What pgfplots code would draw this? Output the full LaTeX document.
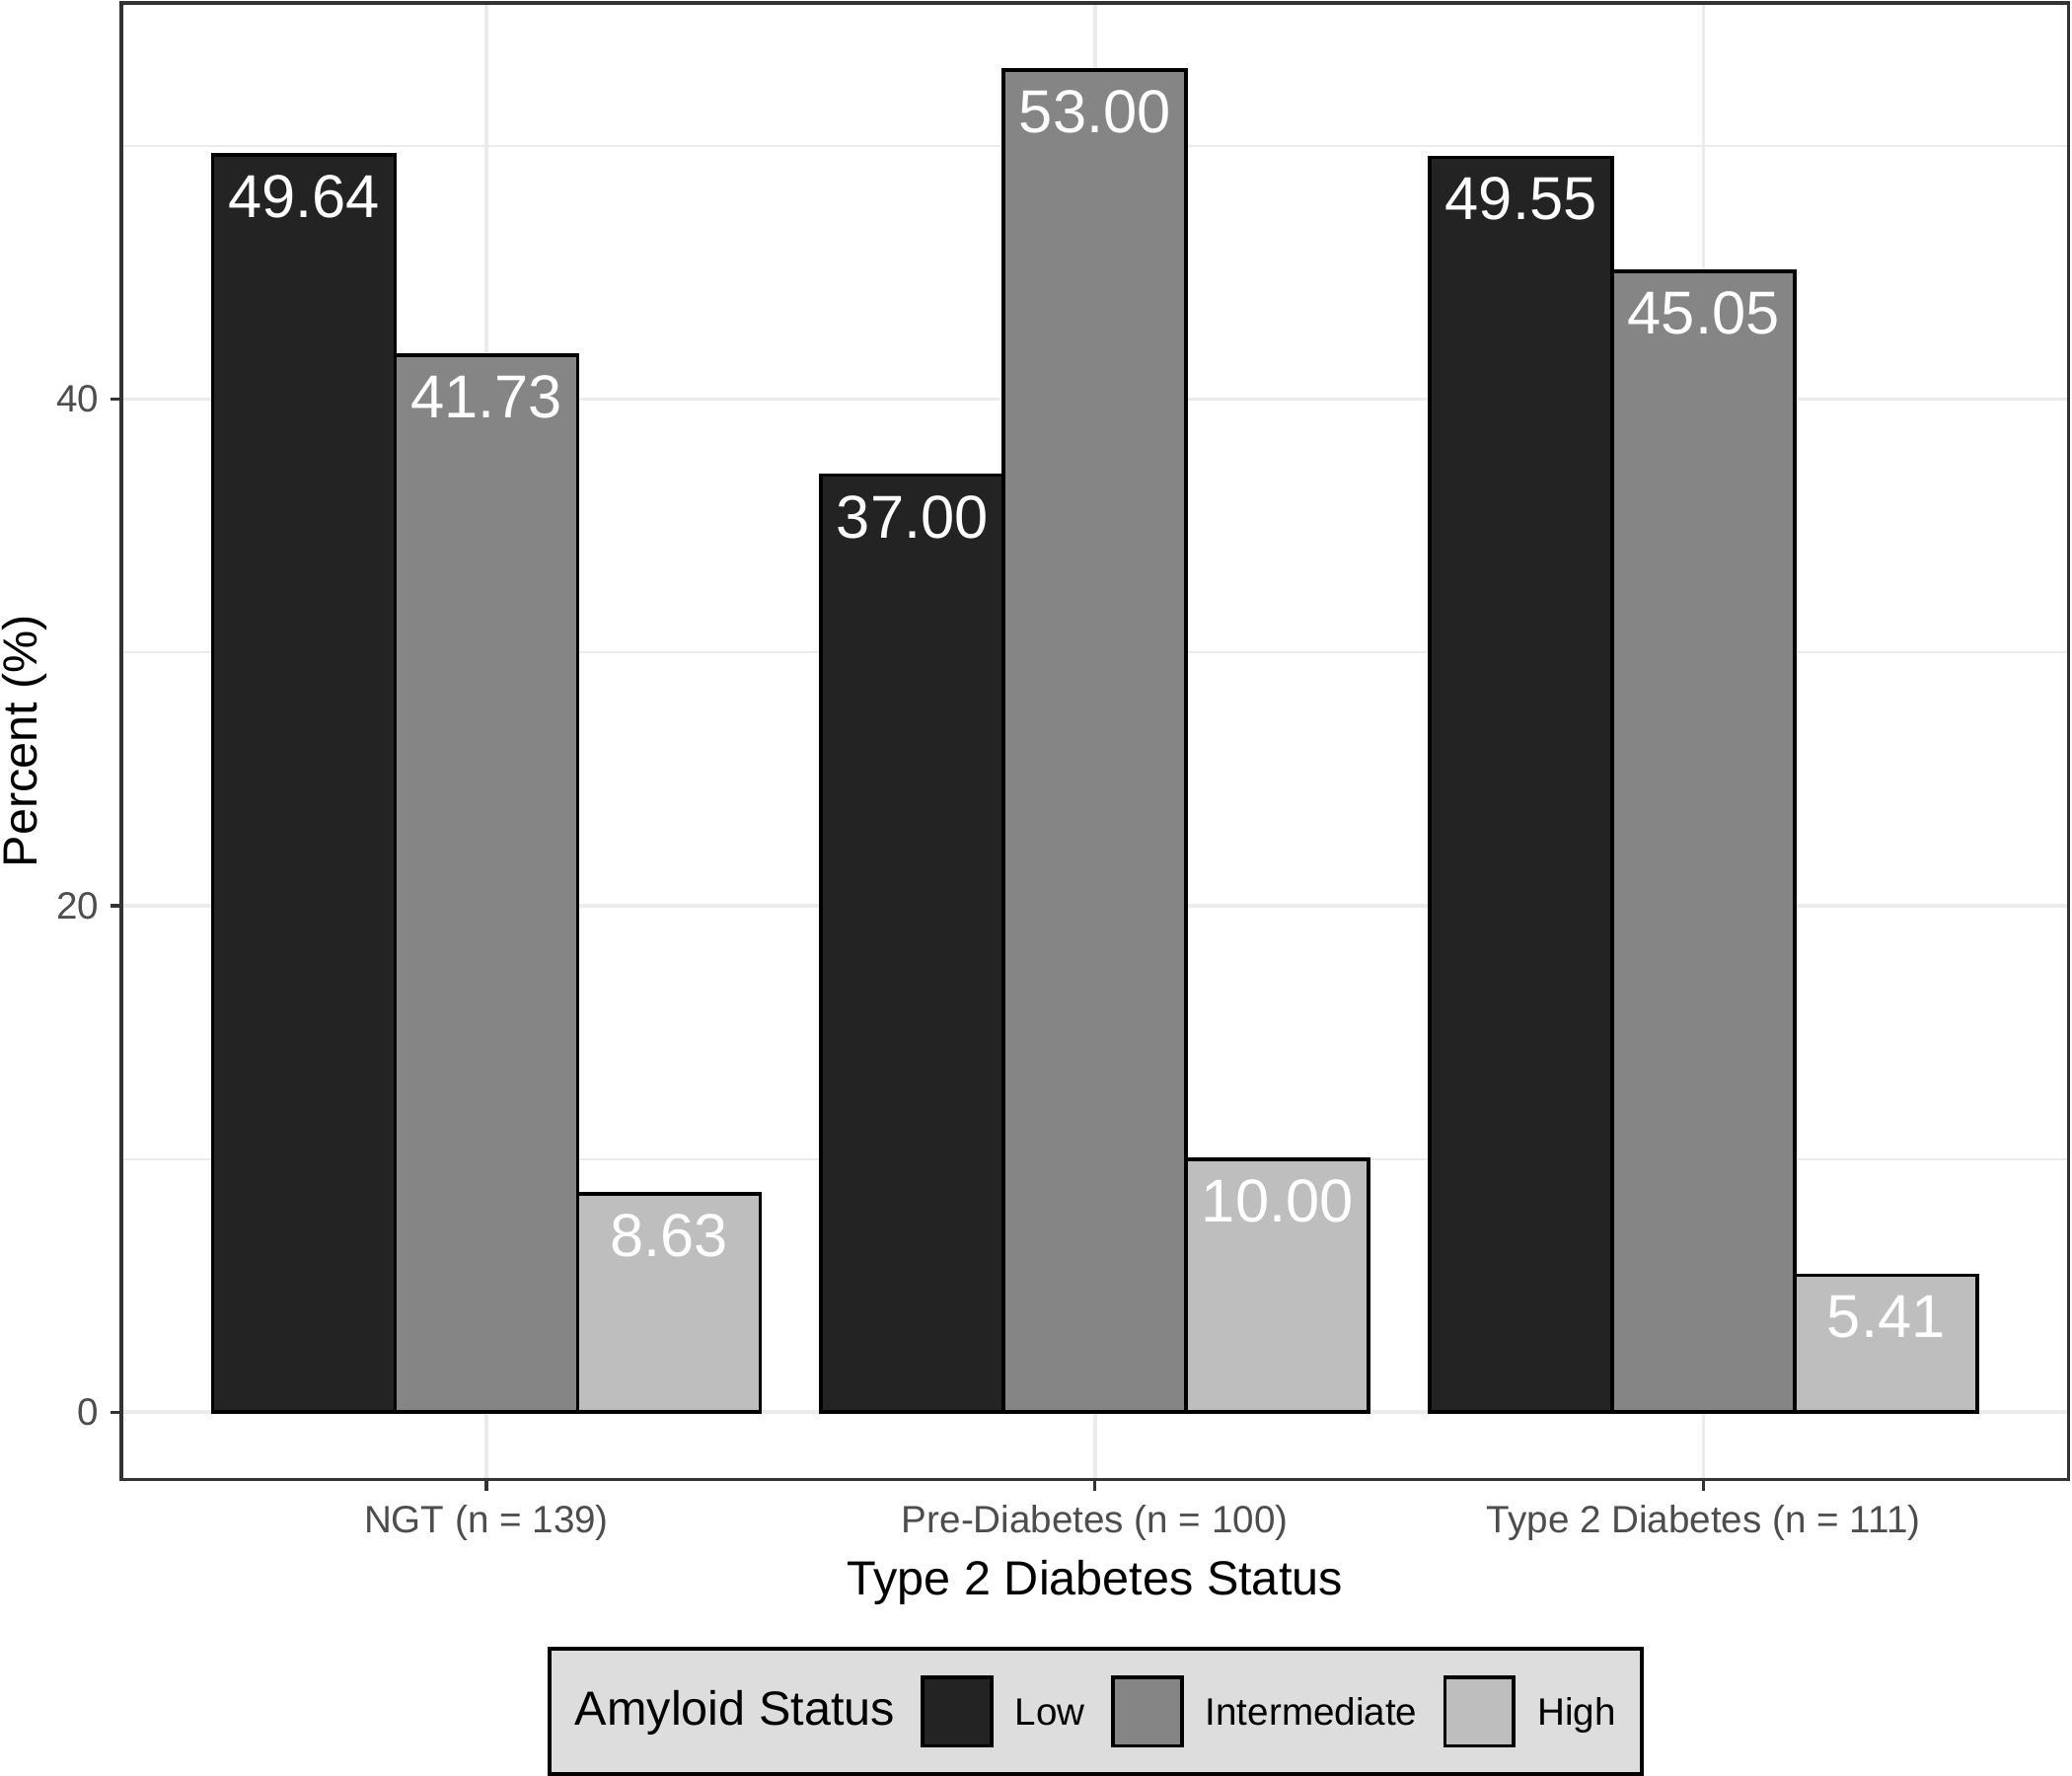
\documentclass[border=0pt]{standalone}
\usepackage{fontspec}
\setmainfont{Liberation Sans}
\usepackage{pgfplots}
\pgfplotsset{compat=1.18}
\definecolor{lowc}{RGB}{35,35,35}
\definecolor{midc}{RGB}{133,133,133}
\definecolor{highc}{RGB}{190,190,190}
\definecolor{gridc}{RGB}{235,235,235}
\definecolor{borderc}{RGB}{51,51,51}
\definecolor{tickc}{RGB}{77,77,77}
\definecolor{legendbg}{RGB}{221,221,221}
\pgfplotsset{
  keylegend/.style={legend image code/.code={%
    \path[draw=none,fill=none] (0pt,0pt) -- (29.4pt,0pt);
    \draw[##1] (6.8pt,-5.1pt) rectangle (23.6pt,11.7pt);}},
  barlabel/.style={nodes near coords={\pgfmathprintnumber[fixed,fixed zerofill,precision=2]{\pgfplotspointmeta}},
    every node near coord/.append style={anchor=north, text=white, inner sep=0pt, yshift=-4.5pt,
      font=\fontsize{14.8}{17}\selectfont}},
}
\begin{document}
\begin{tikzpicture}
\begin{axis}[
  scale only axis, width=475.5pt, height=360.5pt,
  xmin=0.4, xmax=3.6, ymin=-2.65, ymax=55.65,
  xtick={1,2,3},
  xticklabels={NGT (n = 139), Pre-Diabetes (n = 100), Type 2 Diabetes (n = 111)},
  ytick={0,20,40}, minor ytick={10,30,50},
  grid=both,
  major grid style={color=gridc, line width=0.9pt},
  minor grid style={color=gridc, line width=0.5pt},
  axis line style={color=borderc, line width=0.8pt},
  tick align=outside, major tick length=2.7pt, minor tick length=0pt,
  tick style={color=borderc, line width=0.8pt},
  xtick pos=left, ytick pos=left,
  /pgf/number format/assume math mode=true,
  ticklabel style={font=\fontsize{9.3}{11}\selectfont, text=tickc},
  xticklabel style={anchor=base, inner sep=0pt, yshift=-10.4pt},
  yticklabel style={anchor=east, inner sep=0pt, xshift=-2.5pt},
  xlabel={Type 2 Diabetes Status},
  ylabel={Percent (\%)},
  label style={font=\fontsize{11.7}{14}\selectfont},
  xlabel style={at={(axis description cs:0.5,-0.0698)}, anchor=center},
  ylabel style={at={(axis description cs:-0.0497,0.5)}, anchor=center},
  legend style={at={(axis description cs:0.5003,-0.1573)}, anchor=center,
    fill=legendbg, draw=black, line width=1.1pt,
    inner xsep=6.3pt, inner ysep=6.5pt, column sep=0pt,
    nodes={inner sep=0pt, anchor=base west},
    font=\fontsize{9.3}{11}\selectfont},
  legend columns=-1,
]
\addlegendimage{legend image code/.code={}}
\addlegendentry{\fontsize{11.7}{14}\selectfont Amyloid Status}
\addplot[ybar, bar width=0.3, bar shift=0, fill=lowc, draw=black, line width=0.9pt, keylegend, barlabel]
  coordinates {(0.7,49.64) (1.7,37.00) (2.7,49.55)};
\addlegendentry{Low}
\addplot[ybar, bar width=0.3, bar shift=0, fill=midc, draw=black, line width=0.9pt, keylegend, barlabel]
  coordinates {(1,41.73) (2,53.00) (3,45.05)};
\addlegendentry{Intermediate}
\addplot[ybar, bar width=0.3, bar shift=0, fill=highc, draw=black, line width=0.9pt, keylegend, barlabel]
  coordinates {(1.3,8.63) (2.3,10.00) (3.3,5.41)};
\addlegendentry{High}
\end{axis}
\pgfresetboundingbox
\path[use as bounding box] (-29.6pt,-72.4pt) rectangle (476.3pt,361.2pt);
\end{tikzpicture}
\end{document}
